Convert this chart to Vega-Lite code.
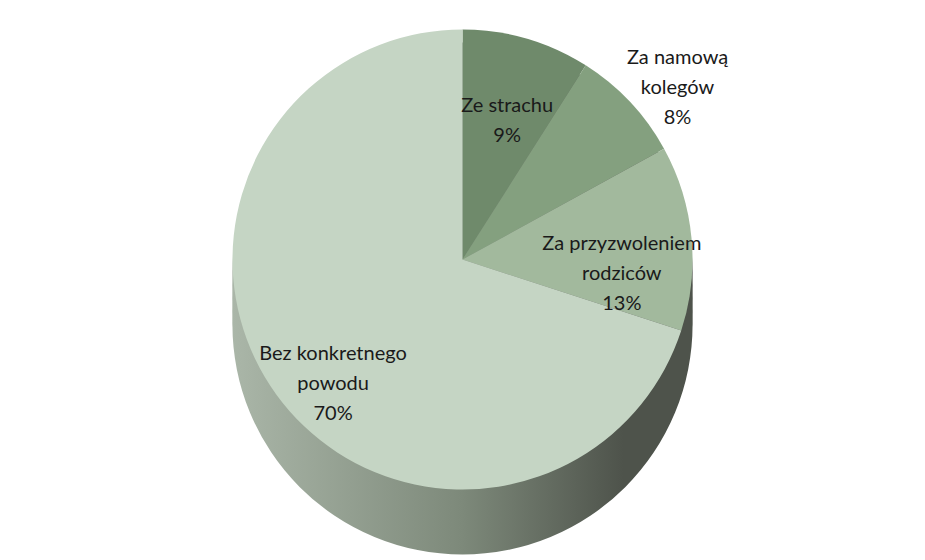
{
  "$schema": "https://vega.github.io/schema/vega-lite/v6.json",
  "width": 925,
  "height": 560,
  "autosize": {"type": "fit", "contains": "padding"},
  "padding": 0,
  "background": "white",
  "config": {"view": {"stroke": null}},
  "data": {"values": [
    {"cat": "Ze strachu", "value": 9, "ord": 1, "label": "Ze strachu\n9%"},
    {"cat": "Za namową kolegów", "value": 8, "ord": 2, "label": "Za namową\nkolegów\n8%"},
    {"cat": "Za przyzwoleniem rodziców", "value": 13, "ord": 3, "label": "Za przyzwoleniem\nrodziców\n13%"},
    {"cat": "Bez konkretnego powodu", "value": 70, "ord": 4, "label": "Bez konkretnego\npowodu\n70%"}
  ]},
  "layer": [
    {
      "data": {"values": [{"part": "side"}]},
      "mark": {"type": "arc", "radius": 230, "yOffset": 10, "color": {"gradient": "linear", "x1": 0, "x2": 1, "y1": 0, "y2": 0, "stops": [{"offset": 0, "color": "#aab6a8"}, {"offset": 0.5, "color": "#7d897a"}, {"offset": 0.85, "color": "#4e534b"}, {"offset": 1, "color": "#4e534b"}]}},
      "encoding": {}
    },
    {
      "data": {"values": [{"part": "side"}]},
      "mark": {"type": "arc", "radius": 230, "yOffset": -3, "color": {"gradient": "linear", "x1": 0, "x2": 1, "y1": 0, "y2": 0, "stops": [{"offset": 0, "color": "#aab6a8"}, {"offset": 0.5, "color": "#7d897a"}, {"offset": 0.85, "color": "#4e534b"}, {"offset": 1, "color": "#4e534b"}]}},
      "encoding": {}
    },
    {
      "data": {"values": [{"part": "side"}]},
      "mark": {"type": "arc", "radius": 230, "yOffset": -16, "color": {"gradient": "linear", "x1": 0, "x2": 1, "y1": 0, "y2": 0, "stops": [{"offset": 0, "color": "#aab6a8"}, {"offset": 0.5, "color": "#7d897a"}, {"offset": 0.85, "color": "#4e534b"}, {"offset": 1, "color": "#4e534b"}]}},
      "encoding": {}
    },
    {
      "data": {"values": [{"part": "side"}]},
      "mark": {"type": "arc", "radius": 230, "yOffset": -29, "color": {"gradient": "linear", "x1": 0, "x2": 1, "y1": 0, "y2": 0, "stops": [{"offset": 0, "color": "#aab6a8"}, {"offset": 0.5, "color": "#7d897a"}, {"offset": 0.85, "color": "#4e534b"}, {"offset": 1, "color": "#4e534b"}]}},
      "encoding": {}
    },
    {
      "data": {"values": [{"part": "side"}]},
      "mark": {"type": "arc", "radius": 230, "yOffset": -42, "color": {"gradient": "linear", "x1": 0, "x2": 1, "y1": 0, "y2": 0, "stops": [{"offset": 0, "color": "#aab6a8"}, {"offset": 0.5, "color": "#7d897a"}, {"offset": 0.85, "color": "#4e534b"}, {"offset": 1, "color": "#4e534b"}]}},
      "encoding": {}
    },
    {
      "mark": {"type": "arc", "radius": 230, "yOffset": -55, "strokeWidth": 0},
      "encoding": {
        "theta": {"field": "value", "type": "quantitative", "stack": true},
        "order": {"field": "ord", "type": "quantitative"},
        "color": {"field": "cat", "type": "nominal", "legend": null,
          "scale": {"domain": ["Ze strachu", "Za namową kolegów", "Za przyzwoleniem rodziców", "Bez konkretnego powodu"],
                    "range": ["#6f8a6b", "#84a07f", "#a2b99d", "#c5d5c4"]}}
      }
    },
    {
      "mark": {"type": "text", "radius": 160, "yOffset": -55, "font": "Lato", "fontSize": 20, "color": "#1a1a1a", "lineBreak": "\n", "lineHeight": 30, "align": "center", "baseline": "middle"},
      "encoding": {
        "theta": {"field": "value", "type": "quantitative", "stack": true},
        "order": {"field": "ord", "type": "quantitative"},
        "text": {"condition": {"test": "datum.cat === 'Za namową kolegów'", "value": ""}, "field": "label"}
      }
    },
    {
      "mark": {"type": "text", "radius": 295, "yOffset": -55, "font": "Lato", "fontSize": 20, "color": "#1a1a1a", "lineBreak": "\n", "lineHeight": 30, "align": "center", "baseline": "middle"},
      "encoding": {
        "theta": {"field": "value", "type": "quantitative", "stack": true},
        "order": {"field": "ord", "type": "quantitative"},
        "text": {"condition": {"test": "datum.cat !== 'Za namową kolegów'", "value": ""}, "field": "label"}
      }
    }
  ]
}
